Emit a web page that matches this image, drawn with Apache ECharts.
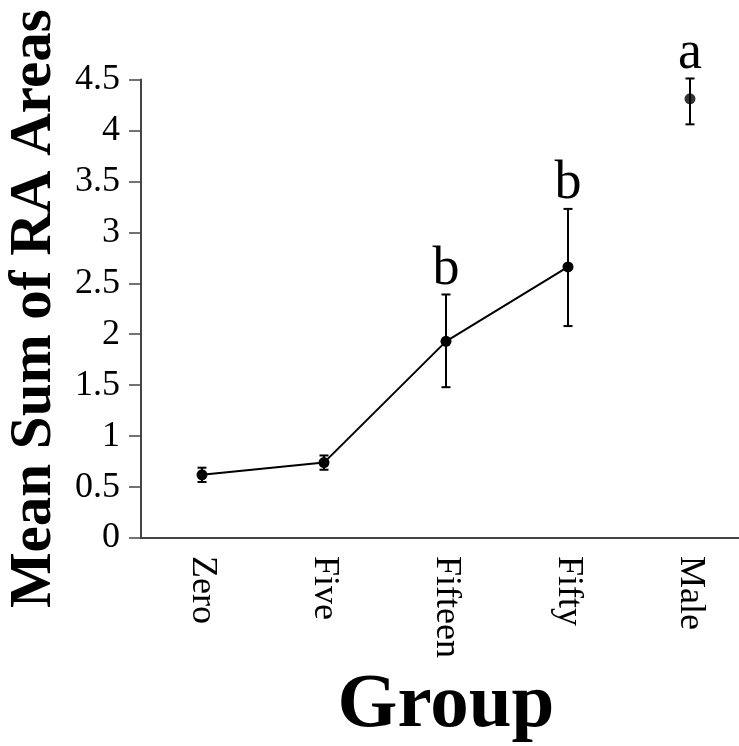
<!DOCTYPE html>
<html>
<head>
<meta charset="utf-8">
<script src="https://cdn.jsdelivr.net/npm/echarts@6/dist/echarts.min.js"></script>
<style>
html,body{margin:0;padding:0;background:#fff;}
#chart{width:739px;height:746px;}
</style>
</head>
<body>
<div id="chart"></div>
<script>
var groups = ['Zero', 'Five', 'Fifteen', 'Fifty', 'Male'];
var means = [0.62, 0.74, 1.93, 2.66, 4.31];
var lower = [0.55, 0.67, 1.48, 2.08, 4.06];
var upper = [0.69, 0.81, 2.39, 3.23, 4.51];
var letters = ['', '', 'b', 'b', 'a'];
var connected = [true, true, true, true, false];

var FONT = '"Liberation Serif", "Times New Roman", serif';

var lineData = means.map(function (v, i) { return connected[i] ? v : '-'; });
var loneData = means.map(function (v, i) { return connected[i] ? '-' : v; });
var errData = groups.map(function (g, i) { return [i, lower[i], upper[i], letters[i]]; });

var chart = echarts.init(document.getElementById('chart'), null, {renderer: 'canvas'});
chart.setOption({
  backgroundColor: '#ffffff',
  animation: false,
  grid: {left: 141, right: -12, top: 79.5, bottom: 208, containLabel: false, outerBoundsMode: 'none'},
  xAxis: {
    type: 'category',
    data: groups,
    boundaryGap: true,
    name: 'Group',
    nameLocation: 'middle',
    nameGap: 130,
    nameTextStyle: {fontFamily: FONT, fontSize: 77, fontWeight: 'bold', color: '#000'},
    axisLine: {lineStyle: {color: '#444', width: 2}},
    axisTick: {show: false},
    axisLabel: {rotate: -90, margin: 18, fontFamily: FONT, fontSize: 36, color: '#000'}
  },
  yAxis: {
    type: 'value',
    min: 0,
    max: 4.5,
    interval: 0.5,
    name: 'Mean Sum of RA Areas',
    nameLocation: 'middle',
    nameRotate: 90,
    nameGap: 72,
    nameTextStyle: {fontFamily: FONT, fontSize: 59, fontWeight: 'bold', color: '#000'},
    axisLine: {show: true, lineStyle: {color: '#444', width: 2}},
    axisTick: {show: true, inside: false, length: 12, lineStyle: {color: '#444', width: 1.5}},
    splitLine: {show: false},
    axisLabel: {margin: 21, fontFamily: FONT, fontSize: 36, color: '#000'}
  },
  series: [
    {
      type: 'custom',
      clip: false,
      z: 3,
      data: errData,
      renderItem: function (params, api) {
        var x = api.value(0);
        var lo = api.coord([x, api.value(1)]);
        var hi = api.coord([x, api.value(2)]);
        var cw = 4.5;
        var st = {stroke: '#000', lineWidth: 2};
        var children = [
          {type: 'line', shape: {x1: hi[0], y1: hi[1], x2: lo[0], y2: lo[1]}, style: st},
          {type: 'line', shape: {x1: hi[0] - cw, y1: hi[1], x2: hi[0] + cw, y2: hi[1]}, style: st},
          {type: 'line', shape: {x1: lo[0] - cw, y1: lo[1], x2: lo[0] + cw, y2: lo[1]}, style: st}
        ];
        var letter = letters[params.dataIndex];
        if (letter) {
          children.push({
            type: 'text',
            style: {
              text: letter, x: hi[0], y: hi[1] + 2,
              align: 'center', verticalAlign: 'bottom',
              font: 'normal 54px ' + FONT, fill: '#000'
            }
          });
        }
        return {type: 'group', children: children};
      }
    },
    {
      type: 'line',
      data: lineData,
      z: 4,
      symbol: 'circle',
      symbolSize: 11,
      showAllSymbol: true,
      lineStyle: {color: '#000', width: 2},
      itemStyle: {color: '#000'}
    },
    {
      type: 'scatter',
      data: loneData,
      z: 4,
      symbol: 'circle',
      symbolSize: 11,
      itemStyle: {color: '#000'}
    }
  ]
});
</script>
</body>
</html>
